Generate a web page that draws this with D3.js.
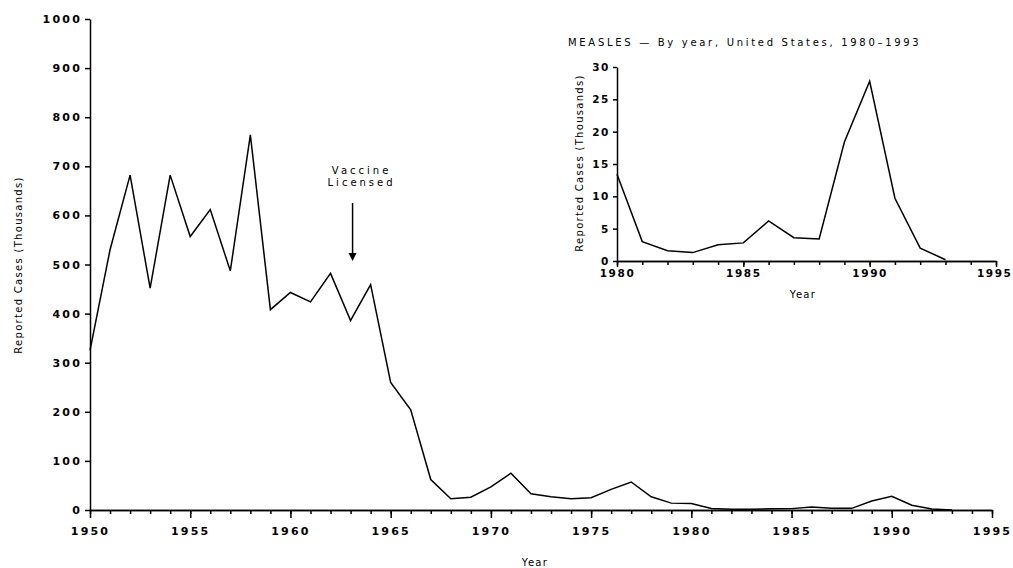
<!DOCTYPE html>
<html>
<head>
<meta charset="utf-8">
<script src="https://cdn.jsdelivr.net/npm/d3@7"></script>
<style>
  body { margin: 0; background: #fff; }
  svg { display: block; }
  text { font-family: "DejaVu Sans", sans-serif; fill: #000; }
  .axis path, .axis line { stroke: #000; stroke-width: 1.5; }
  .axis text { font-size: 11px; font-weight: bold; letter-spacing: 2.2px; }
  .inset .axis text { font-size: 10.5px; letter-spacing: 1.6px; }
  .lbl { font-size: 10px; letter-spacing: 1.3px; }
</style>
</head>
<body>
<script>
'use strict';

// reported measles cases, thousands
const years = [
  1950, 1951, 1952, 1953, 1954, 1955, 1956, 1957, 1958, 1959,
  1960, 1961, 1962, 1963, 1964, 1965, 1966, 1967, 1968, 1969,
  1970, 1971, 1972, 1973, 1974, 1975, 1976, 1977, 1978, 1979,
  1980, 1981, 1982, 1983, 1984, 1985, 1986, 1987, 1988, 1989,
  1990, 1991, 1992, 1993
];
const cases = [
  325, 530, 682, 452, 682, 557, 612, 487, 764, 408,
  443, 424, 482, 386, 459, 260, 204, 62, 23, 26,
  47, 75, 33, 27, 23, 25, 42, 57, 27, 14,
  13.4, 3.0, 1.6, 1.3, 2.5, 2.8, 6.2, 3.6, 3.4, 18.4,
  27.8, 9.7, 2.0, 0.2
];
const mainYTicks = [0, 100, 200, 300, 400, 500, 600, 700, 800, 900, 1000];
const mainXTicks = [1950, 1955, 1960, 1965, 1970, 1975, 1980, 1985, 1990, 1995];
const insetYTicks = [0, 5, 10, 15, 20, 25, 30];
const insetXTicks = [1980, 1985, 1990, 1995];
const vaccineYear = 1963;

const data = years.map((y, i) => ({year: y, value: cases[i]}));
const insetData = data.filter(d => d.year >= 1980);

const svg = d3.select('body').append('svg')
    .attr('width', 1013)
    .attr('height', 568);

// main chart
const x = d3.scaleLinear().domain([1950, 1995]).range([90, 992]);
const y = d3.scaleLinear().domain([0, 1000]).range([510, 19]);

svg.append('g')
    .attr('class', 'axis')
    .attr('transform', 'translate(0,510)')
    .call(d3.axisBottom(x).tickValues(d3.range(1950, 1996)).tickSize(4).tickSizeOuter(0).tickFormat(''));

svg.append('g')
    .attr('class', 'axis')
    .attr('transform', 'translate(0,510)')
    .call(d3.axisBottom(x).tickValues(mainXTicks).tickSize(8).tickSizeOuter(0).tickFormat(d3.format('d')).tickPadding(9));

svg.append('g')
    .attr('class', 'axis')
    .attr('transform', 'translate(90,0)')
    .call(d3.axisLeft(y).tickValues(mainYTicks).tickSize(5).tickSizeOuter(0).tickFormat(d3.format('d')).tickPadding(3));

const line = d3.line()
    .x(d => x(d.year))
    .y(d => y(d.value));

svg.append('path')
    .datum(data)
    .attr('fill', 'none')
    .attr('stroke', '#000')
    .attr('stroke-width', 1.5)
    .attr('d', line);

svg.append('text')
    .attr('class', 'lbl')
    .attr('text-anchor', 'middle')
    .attr('transform', 'translate(22,265) rotate(-90)')
    .text('Reported Cases (Thousands)');

svg.append('text')
    .attr('class', 'lbl')
    .attr('x', 535)
    .attr('y', 566)
    .attr('text-anchor', 'middle')
    .text('Year');

// vaccine annotation
const vx = x(vaccineYear) + 2;
svg.append('text')
    .attr('class', 'lbl')
    .attr('x', vx + 9)
    .attr('y', 174)
    .attr('text-anchor', 'middle')
    .style('letter-spacing', '3px')
    .text('Vaccine');
svg.append('text')
    .attr('class', 'lbl')
    .attr('x', vx + 9)
    .attr('y', 186)
    .attr('text-anchor', 'middle')
    .style('letter-spacing', '3px')
    .text('Licensed');
svg.append('line')
    .attr('x1', vx).attr('x2', vx)
    .attr('y1', 203).attr('y2', 254)
    .attr('stroke', '#000')
    .attr('stroke-width', 1.5);
svg.append('path')
    .attr('d', `M${vx - 4},253 L${vx + 4},253 L${vx},261 Z`)
    .attr('fill', '#000');

// inset chart
const inset = svg.append('g').attr('class', 'inset');
const ix = d3.scaleLinear().domain([1980, 1995]).range([617, 996]);
const iy = d3.scaleLinear().domain([0, 30]).range([261, 67]);

inset.append('g')
    .attr('class', 'axis')
    .attr('transform', 'translate(0,261)')
    .call(d3.axisBottom(ix).tickValues(d3.range(1980, 1996)).tickSize(4).tickSizeOuter(0).tickFormat(''));

inset.append('g')
    .attr('class', 'axis')
    .attr('transform', 'translate(0,261)')
    .call(d3.axisBottom(ix).tickValues(insetXTicks).tickSize(6).tickSizeOuter(0).tickFormat(d3.format('d')).tickPadding(3));

inset.append('g')
    .attr('class', 'axis')
    .attr('transform', 'translate(617,0)')
    .call(d3.axisLeft(iy).tickValues(insetYTicks).tickSize(4).tickSizeOuter(0).tickPadding(3));

// keep the last year label inside the frame
inset.selectAll('.tick text').filter(d => d === 1995)
    .attr('text-anchor', 'end')
    .attr('dx', 16);

const iline = d3.line()
    .x(d => ix(d.year))
    .y(d => iy(d.value));

inset.append('path')
    .datum(insetData)
    .attr('fill', 'none')
    .attr('stroke', '#000')
    .attr('stroke-width', 1.5)
    .attr('d', iline);

inset.append('text')
    .attr('class', 'lbl')
    .attr('x', 568)
    .attr('y', 46)
    .style('letter-spacing', '2.7px')
    .text('MEASLES \u2014 By year, United States, 1980\u20131993');

inset.append('text')
    .attr('class', 'lbl')
    .attr('text-anchor', 'middle')
    .attr('transform', 'translate(583,163) rotate(-90)')
    .text('Reported Cases (Thousands)');

inset.append('text')
    .attr('class', 'lbl')
    .attr('x', 803)
    .attr('y', 298)
    .attr('text-anchor', 'middle')
    .text('Year');
</script>
</body>
</html>
